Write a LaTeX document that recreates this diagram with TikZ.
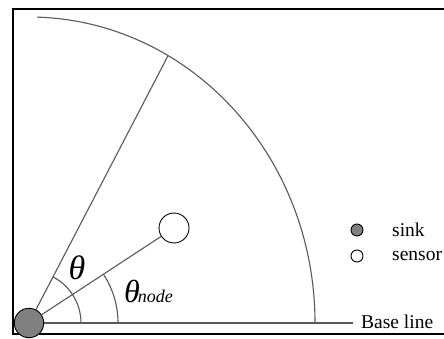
\documentclass[tikz,border=0pt]{standalone}
\usepackage{fontspec}
\setmainfont{Liberation Serif}
\usetikzlibrary{calc}

\begin{document}
\begin{tikzpicture}[
  x=1pt, y=1pt,
  thin line/.style={draw=black!65, line width=1.1pt},
  sink dot/.style={circle, draw=black, line width=0.9pt, fill=black!50, inner sep=0pt},
  sensor dot/.style={circle, draw=black, line width=0.9pt, fill=white, inner sep=0pt},
  label text/.style={font=\fontsize{19.5}{20}\selectfont, inner sep=0pt}
]
\useasboundingbox (0,0) rectangle (444,338);
\clip (0,0) rectangle (444,338);
\fill[white] (0,0) rectangle (444,338);
\draw[line width=1.2pt] (13,4) rectangle (450,329);

\coordinate (O) at (29,15);
% rim of the range and the base line
\draw[thin line] ($(O)+(286,0)$) arc[start angle=0, end angle=88.4, x radius=286, y radius=306];
\coordinate (rim) at ($(O)+(60.9:286 and 306)$);
\coordinate (baseEnd) at (353,15);

% angle marks
\draw[thin line] ($(O)+(52,0)$) arc[start angle=0, end angle=62.4, radius=52];
\draw[thin line] ($(O)+(89,0)$) arc[start angle=0, end angle=33.2, radius=89];

\node[sink dot, minimum size=29.4pt] (sink) at (O) {};
\node[sensor dot, minimum size=30pt] (sensor) at (174,110) {};

\draw[thin line] (sink) -- (rim);
\draw[thin line] (sink) -- (sensor);
\draw[thin line] (sink.east |- O) -- (baseEnd);

\node[label text, anchor=west] (baseLbl) at (361,16) {Base line};
\node[inner sep=0pt, font=\itshape\fontsize{34}{34}\selectfont] (theta) at (77,70) {θ};
\node[inner sep=0pt, anchor=base west] (thetaNode) at (124,36)
  {\itshape\fontsize{32}{32}\selectfont θ\kern-2pt\fontsize{18}{18}\selectfont node};

% legend
\node[sink dot, minimum size=12pt] (sinkKey) at (357,108) {};
\node[sensor dot, minimum size=12pt] (sensorKey) at (357,82) {};
\node[label text, anchor=west] (sinkLbl) at (392,108) {sink};
\node[label text, anchor=west] (sensorLbl) at (392,82) {sensor};
\end{tikzpicture}
\end{document}
